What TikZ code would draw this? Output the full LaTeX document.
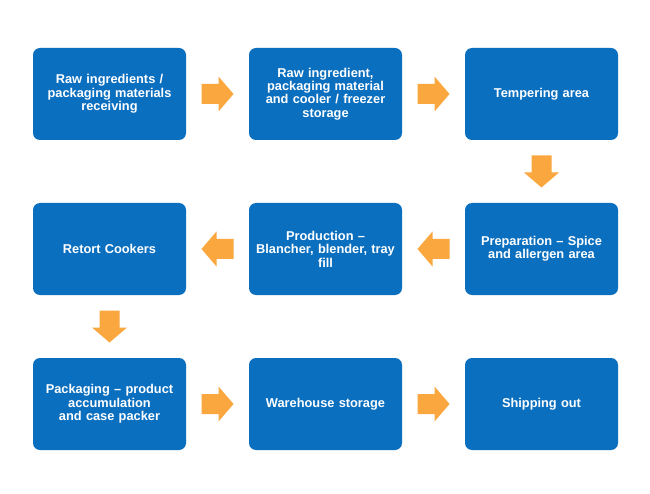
\documentclass[tikz,border=0pt]{standalone}
\usepackage{fontspec}
\setmainfont{Liberation Sans}
\usepackage{tikz}
\usetikzlibrary{calc}

\definecolor{stepblue}{HTML}{0B6FC0}
\definecolor{steporange}{HTML}{F9A73E}

\tikzset{
    stepbox/.style={rectangle, rounded corners=7pt, fill=stepblue, draw=none,
        minimum width=153pt, minimum height=92pt, text width=145pt, align=center,
        text=white, font=\fontsize{12.8}{13.4}\selectfont\bfseries, inner sep=0pt},
    flowarrow/.pic={
        \fill[steporange] (-16,-10) -- (1,-10) -- (1,-17.5) -- (16,0)
            -- (1,17.5) -- (1,10) -- (-16,10) -- cycle;
    }
}

\begin{document}
\begin{tikzpicture}[x=1pt,y=1pt]

\useasboundingbox (0,0) rectangle (650,-494);

% First row
\node[stepbox] (receive) at (109.5,-94) {Raw ingredients /\\packaging materials\\receiving};
\node[stepbox] (storage) at (325.5,-94) {Raw ingredient,\\packaging material\\and cooler / freezer\\storage};
\node[stepbox] (temper) at (541.5,-94) {Tempering area};

% Second row
\node[stepbox] (prep) at (541.5,-249) {Preparation -- Spice\\and allergen area};
\node[stepbox] (prod) at (325.5,-249) {Production --\\Blancher, blender, tray\\fill};
\node[stepbox] (retort) at (109.5,-249) {Retort Cookers};

% Third row
\node[stepbox] (pack) at (109.5,-404) {Packaging -- product\\accumulation\\and case packer};
\node[stepbox] (ware) at (325.5,-404) {Warehouse storage};
\node[stepbox] (ship) at (541.5,-404) {Shipping out};

% Arrows between steps
\pic at ($(receive.east)!0.5!(storage.west)$) {flowarrow};
\pic at ($(storage.east)!0.5!(temper.west)$) {flowarrow};
\pic[rotate=-90] at ($(temper.south)!0.5!(prep.north)$) {flowarrow};
\pic[rotate=180] at ($(prep.west)!0.5!(prod.east)$) {flowarrow};
\pic[rotate=180] at ($(prod.west)!0.5!(retort.east)$) {flowarrow};
\pic[rotate=-90] at ($(retort.south)!0.5!(pack.north)$) {flowarrow};
\pic at ($(pack.east)!0.5!(ware.west)$) {flowarrow};
\pic at ($(ware.east)!0.5!(ship.west)$) {flowarrow};

\end{tikzpicture}
\end{document}
